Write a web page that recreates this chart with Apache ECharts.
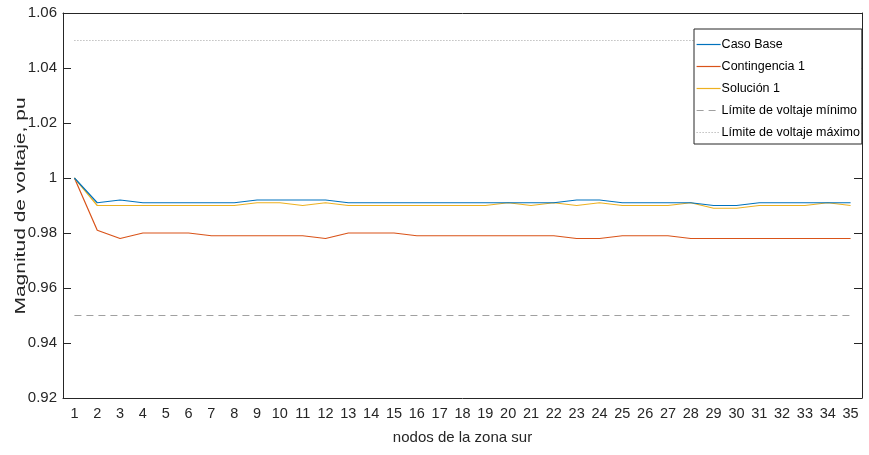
<!DOCTYPE html>
<html>
<head>
<meta charset="utf-8">
<script src="https://cdn.jsdelivr.net/npm/echarts@6/dist/echarts.min.js"></script>
<style>
  html, body { margin: 0; padding: 0; background: #fff; }
  #chart { width: 869px; height: 455px; }
</style>
</head>
<body>
<div id="chart"></div>
<script>
// Nodes of the southern zone
const nodos = ['1','2','3','4','5','6','7','8','9','10','11','12','13','14','15','16','17','18',
  '19','20','21','22','23','24','25','26','27','28','29','30','31','32','33','34','35'];

// Voltage magnitude per node, pu
const casoBase = [1.000, 0.991, 0.992, 0.991, 0.991, 0.991, 0.991, 0.991, 0.992, 0.992, 0.992, 0.992,
  0.991, 0.991, 0.991, 0.991, 0.991, 0.991, 0.991, 0.991, 0.991, 0.991, 0.992, 0.992,
  0.991, 0.991, 0.991, 0.991, 0.990, 0.990, 0.991, 0.991, 0.991, 0.991, 0.991];
const contingencia1 = [1.000, 0.981, 0.978, 0.980, 0.980, 0.980, 0.979, 0.979, 0.979, 0.979, 0.979, 0.978,
  0.980, 0.980, 0.980, 0.979, 0.979, 0.979, 0.979, 0.979, 0.979, 0.979, 0.978, 0.978,
  0.979, 0.979, 0.979, 0.978, 0.978, 0.978, 0.978, 0.978, 0.978, 0.978, 0.978];
const solucion1 = [1.000, 0.990, 0.990, 0.990, 0.990, 0.990, 0.990, 0.990, 0.991, 0.991, 0.990, 0.991,
  0.990, 0.990, 0.990, 0.990, 0.990, 0.990, 0.990, 0.991, 0.990, 0.991, 0.990, 0.991,
  0.990, 0.990, 0.990, 0.991, 0.989, 0.989, 0.990, 0.990, 0.990, 0.991, 0.990];

// Voltage limits, pu
const limiteMinimo = 0.95;
const limiteMaximo = 1.05;

// Y axis ticks
const yMin = 0.92, yMax = 1.06, yStep = 0.02;

const FONT = "'Liberation Sans Narrow', 'Liberation Sans', Arial, sans-serif";

const chart = echarts.init(document.getElementById('chart'), null, { renderer: 'canvas' });

const axisLineStyle = { color: '#262626', width: 1 };

chart.setOption({
  animation: false,
  backgroundColor: '#ffffff',
  grid: { left: 63, right: 7, top: 13, bottom: 57, containLabel: false },
  // Vertical axis title, stretched along its baseline
  graphic: [{
    type: 'text',
    x: 21,
    y: 206,
    rotation: Math.PI / 2,
    scaleX: 1.5,
    scaleY: 1,
    style: {
      text: 'Magnitud de voltaje, pu',
      fontFamily: FONT,
      fontSize: 14,
      fill: '#262626',
      align: 'center',
      verticalAlign: 'middle'
    }
  }],
  legend: {
    orient: 'vertical',
    left: 694,
    top: 29,
    padding: [9, 2, 5, 2],
    itemGap: 9,
    itemWidth: 24,
    itemHeight: 12,
    backgroundColor: '#ffffff',
    borderColor: '#262626',
    borderWidth: 1,
    borderRadius: 0,
    itemStyle: { opacity: 0 },
    lineStyle: { type: 'inherit', width: 'inherit', color: 'inherit' },
    textStyle: { fontFamily: FONT, fontSize: 12.5, color: '#000', padding: [0, 0, 0, -4] },
    data: ['Caso Base', 'Contingencia 1', 'Solución 1', 'Límite de voltaje mínimo', 'Límite de voltaje máximo']
  },
  xAxis: [
    {
      type: 'category',
      data: nodos,
      boundaryGap: true,
      name: 'nodos de la zona sur',
      nameLocation: 'middle',
      nameGap: 32,
      nameTextStyle: { fontFamily: FONT, fontSize: 15, color: '#262626' },
      axisLine: { lineStyle: axisLineStyle },
      axisTick: { inside: true, alignWithLabel: true, length: 8, lineStyle: axisLineStyle },
      axisLabel: { fontFamily: FONT, fontSize: 14.5, color: '#262626', margin: 8, interval: 0 },
      splitLine: { show: false }
    },
    {
      type: 'category',
      data: nodos,
      boundaryGap: true,
      position: 'top',
      axisLine: { lineStyle: axisLineStyle },
      axisTick: { inside: true, alignWithLabel: true, length: 8, lineStyle: axisLineStyle },
      axisLabel: { show: false },
      splitLine: { show: false }
    }
  ],
  yAxis: [
    {
      type: 'value',
      min: yMin,
      max: yMax,
      interval: yStep,
      axisLine: { show: true, lineStyle: axisLineStyle },
      axisTick: { show: true, inside: true, length: 8, lineStyle: axisLineStyle },
      axisLabel: {
        fontFamily: FONT, fontSize: 15, color: '#262626', margin: 6,
        formatter: v => String(parseFloat(v.toFixed(2)))
      },
      splitLine: { show: false }
    },
    {
      type: 'value',
      min: yMin,
      max: yMax,
      interval: yStep,
      position: 'right',
      axisLine: { show: true, lineStyle: axisLineStyle },
      axisTick: { show: true, inside: true, length: 8, lineStyle: axisLineStyle },
      axisLabel: { show: false },
      splitLine: { show: false }
    }
  ],
  series: [
    {
      name: 'Caso Base', type: 'line', data: casoBase, symbol: 'none',
      lineStyle: { color: '#0072BD', width: 1.2 }, itemStyle: { color: '#0072BD' }, z: 4
    },
    {
      name: 'Contingencia 1', type: 'line', data: contingencia1, symbol: 'none',
      lineStyle: { color: '#D95319', width: 1.2 }, itemStyle: { color: '#D95319' }, z: 3
    },
    {
      name: 'Solución 1', type: 'line', data: solucion1, symbol: 'none',
      lineStyle: { color: '#EDB120', width: 1.2 }, itemStyle: { color: '#EDB120' }, z: 3
    },
    {
      name: 'Límite de voltaje mínimo', type: 'line', data: nodos.map(() => limiteMinimo), symbol: 'none',
      lineStyle: { color: '#a0a0a0', width: 1.2, type: [7, 5] }, itemStyle: { color: '#a0a0a0' }, z: 2
    },
    {
      name: 'Límite de voltaje máximo', type: 'line', data: nodos.map(() => limiteMaximo), symbol: 'none',
      lineStyle: { color: '#a0a0a0', width: 1, type: [1, 2] }, itemStyle: { color: '#a0a0a0' }, z: 2
    }
  ]
});
</script>
</body>
</html>
